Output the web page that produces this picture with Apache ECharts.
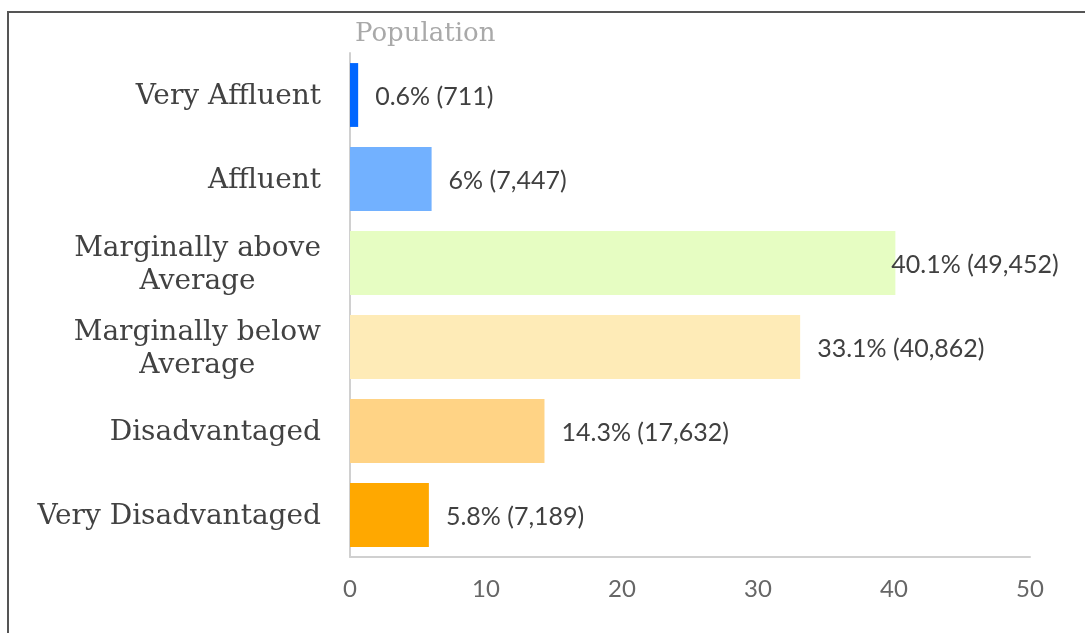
<!DOCTYPE html>
<html>
<head>
<meta charset="utf-8">
<style>
  html, body { margin: 0; padding: 0; background: #fff; }
  #chart { width: 1085px; height: 633px; }
</style>
<script src="https://cdn.jsdelivr.net/npm/echarts@6/dist/echarts.min.js"></script>
</head>
<body>
<div id="chart"></div>
<script>
// Population share by socio-economic band
const categories = [
  'Very Affluent',
  'Affluent',
  'Marginally above\nAverage',
  'Marginally below\nAverage',
  'Disadvantaged',
  'Very Disadvantaged'
];
const percentValues = [0.6, 6, 40.1, 33.1, 14.3, 5.8];
const populationCounts = [711, 7447, 49452, 40862, 17632, 7189];
const barColors = ['#0066ff', '#72b1ff', '#e6fdc2', '#feebb7', '#ffd385', '#ffa800'];
const xTicks = [0, 10, 20, 30, 40, 50];

const serif = '"DejaVu Serif", "Liberation Serif", serif';
const sans = 'Lato, "Noto Sans", sans-serif';

const chart = echarts.init(document.getElementById('chart'), null, { renderer: 'canvas' });

const seriesData = percentValues.map((v, i) => {
  const item = {
    value: v,
    count: populationCounts[i],
    itemStyle: { color: barColors[i] }
  };
  // keep the widest label inside the frame
  if (i === 2) item.label = { distance: -4 };
  return item;
});

chart.setOption({
  animation: false,
  title: {
    text: 'Population',
    left: 350,
    top: 16,
    textStyle: { fontFamily: serif, fontWeight: 'normal', fontSize: 26, color: '#a9a9a9' }
  },
  graphic: [{
    type: 'rect',
    shape: { x: 8, y: 12, width: 1200, height: 800 },
    style: { fill: 'none', stroke: '#555', lineWidth: 2 },
    silent: true,
    z: 100
  }],
  grid: { left: 350, right: 55, top: 53, bottom: 76, containLabel: false },
  xAxis: {
    type: 'value',
    min: 0,
    max: xTicks[xTicks.length - 1],
    interval: 10,
    axisLine: { show: true, lineStyle: { color: '#d0d0d0', width: 2 } },
    axisTick: { show: false },
    splitLine: { show: false },
    axisLabel: {
      margin: 20,
      fontFamily: sans,
      fontSize: 24,
      color: '#666',
      formatter: v => String(v)
    }
  },
  yAxis: {
    type: 'category',
    data: categories,
    inverse: true,
    axisLine: { show: true, lineStyle: { color: '#d0d0d0', width: 2 } },
    axisTick: { show: false },
    axisLabel: {
      margin: 29,
      align: 'right',
      formatter: v => v.split('\n').map(s => '{c|' + s + '}').join('\n'),
      rich: {
        c: {
          fontFamily: serif,
          fontSize: 28,
          color: '#424242',
          align: 'center',
          lineHeight: 33,
          padding: [4, 0, 0, 0]
        }
      }
    }
  },
  series: [{
    type: 'bar',
    data: seriesData,
    barCategoryGap: '24%',
    label: {
      show: true,
      position: 'right',
      distance: 17,
      fontFamily: sans,
      fontSize: 25,
      color: '#404040',
      offset: [0, 2],
      formatter: p => p.value + '% (' + p.data.count.toLocaleString('en-US') + ')'
    }
  }]
});
</script>
</body>
</html>
